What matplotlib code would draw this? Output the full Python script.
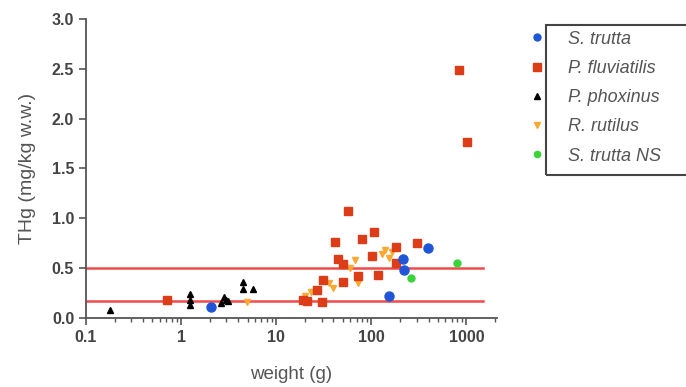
import matplotlib.pyplot as plt
from matplotlib.patches import Rectangle
from matplotlib.lines import Line2D
from matplotlib.ticker import LogLocator, NullFormatter, FixedLocator, FixedFormatter

plt.rcParams['font.family'] = ['Liberation Sans', 'DejaVu Sans']

# Data: weight (g) and THg (mg/kg w.w.)
trutta_w = [2.05, 155, 216, 220, 396]
trutta_hg = [0.11, 0.22, 0.59, 0.48, 0.70]

fluv_w = [830, 1010, 57, 42, 80, 108, 300, 45, 51, 102, 183, 183, 73, 51, 118,
          31, 27, 19, 21, 30, 0.71]
fluv_hg = [2.49, 1.77, 1.07, 0.76, 0.79, 0.86, 0.75, 0.59, 0.54, 0.62, 0.71, 0.55,
           0.42, 0.36, 0.43, 0.38, 0.28, 0.18, 0.17, 0.16, 0.18]

phox_w = [0.18, 1.24, 1.24, 1.24, 2.6, 2.8, 3.0, 3.1, 4.46, 4.46, 5.7]
phox_hg = [0.08, 0.24, 0.18, 0.13, 0.15, 0.21, 0.18, 0.17, 0.36, 0.29, 0.29]

rut_w = [68, 73, 130, 140, 155, 20, 23, 36, 40, 4.9, 165, 60]
rut_hg = [0.58, 0.35, 0.64, 0.68, 0.60, 0.22, 0.26, 0.35, 0.30, 0.16, 0.66, 0.50]

ns_w = [800, 262]
ns_hg = [0.55, 0.40]

limits = [0.5, 0.17]
line_x = [0.1, 1500]

labels = ['S. trutta', 'P. fluviatilis', 'P. phoxinus', 'R. rutilus', 'S. trutta NS']

fig = plt.figure(figsize=(6.86, 3.87), dpi=100)
ax = fig.add_axes([0.1254, 0.1783, 0.5991, 0.7726])

grey = '#555555'
for lim in limits:
    ax.plot(line_x, [lim, lim], color='#f04a4a', lw=1.8, zorder=1)

ax.plot(rut_w, rut_hg, 'v', color='#ffa733', ms=4.5, ls='none', zorder=2)
ax.plot(fluv_w, fluv_hg, 's', color='#dc3c18', ms=6, ls='none', zorder=3)
ax.plot(trutta_w, trutta_hg, 'o', color='#1f55d6', ms=6.5, ls='none', zorder=4)
ax.plot(ns_w, ns_hg, 'o', color='#3ad43a', ms=5, ls='none', zorder=4)
ax.plot(phox_w, phox_hg, '^', color='black', ms=4.5, ls='none', zorder=5)

ax.set_xscale('log')
ax.set_xlim(0.1, 2100)
ax.set_ylim(0, 3.0)
ax.xaxis.set_major_locator(FixedLocator([0.1, 1, 10, 100, 1000]))
ax.xaxis.set_major_formatter(FixedFormatter(['0.1', '1', '10', '100', '1000']))
ax.xaxis.set_minor_locator(LogLocator(base=10, subs=range(2, 10)))
ax.xaxis.set_minor_formatter(NullFormatter())
ax.set_yticks([0.0, 0.5, 1.0, 1.5, 2.0, 2.5, 3.0])
ax.set_yticklabels(['0.0', '0.5', '1.0', '1.5', '2.0', '2.5', '3.0'])

for s in ['top', 'right']:
    ax.spines[s].set_visible(False)
for s in ['left', 'bottom']:
    ax.spines[s].set_color(grey)
    ax.spines[s].set_linewidth(1.3)
ax.tick_params(axis='both', which='major', colors=grey, labelcolor='#444444',
               labelsize=11.5, length=5, width=1.2)
ax.tick_params(axis='x', which='minor', colors=grey, length=3, width=1)
for t in ax.get_xticklabels() + ax.get_yticklabels():
    t.set_fontweight('bold')

ax.set_xlabel('weight (g)', color='#555555', fontsize=13.5, labelpad=15)
ax.set_ylabel('THg (mg/kg w.w.)', color='#555555', fontsize=14, labelpad=11)

# legend: markers sit outside the box, as in the original
handles = [
    Line2D([], [], marker='o', color='#1f55d6', ls='none', ms=5),
    Line2D([], [], marker='s', color='#dc3c18', ls='none', ms=5.5),
    Line2D([], [], marker='^', color='black', ls='none', ms=4),
    Line2D([], [], marker='v', color='#ffa733', ls='none', ms=4.5),
    Line2D([], [], marker='o', color='#3ad43a', ls='none', ms=4.5),
]
leg = fig.legend(handles, labels, loc='upper left', bbox_to_anchor=(0.751, 0.963),
                 frameon=False, handlelength=0.6, handletextpad=1.41,
                 labelspacing=0.68, fontsize=13)
for t in leg.get_texts():
    t.set_color('#555555')
    t.set_fontstyle('italic')
fig.add_artist(Rectangle((0.796, 0.548), 0.25, 0.387, transform=fig.transFigure,
                         fill=False, edgecolor='#444444', lw=1.5))

fig.savefig('out.png', dpi=100)
